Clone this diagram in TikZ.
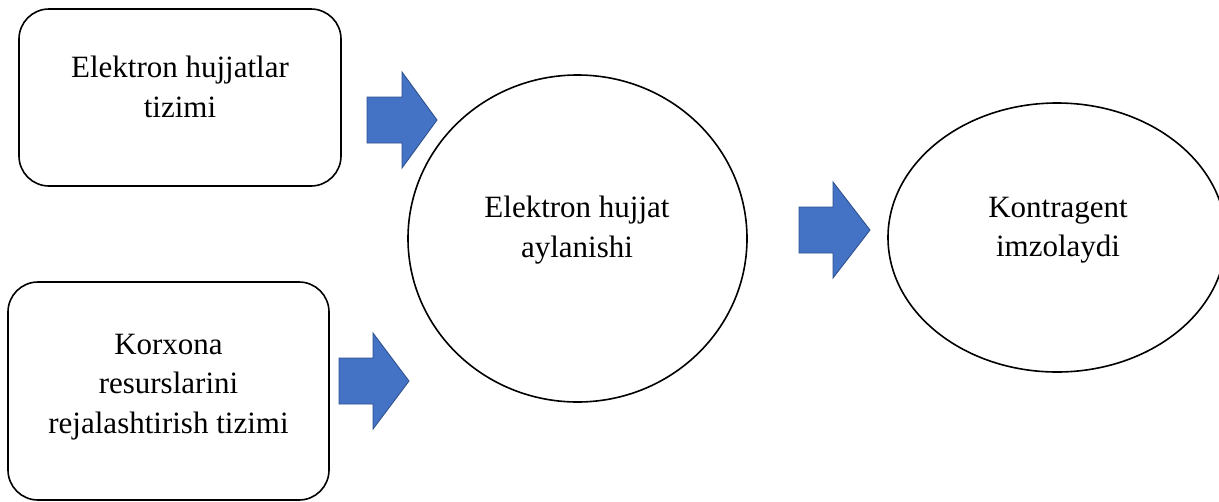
\documentclass[tikz,border=0pt]{standalone}
\usepackage{fontspec}
\setmainfont{Liberation Serif}
\usetikzlibrary{shapes.geometric}
\definecolor{arrfill}{HTML}{4472C4}
\definecolor{arrdraw}{HTML}{2F528F}
\tikzset{
  boxnode/.style={draw=black, line width=1.6pt, rounded corners=30pt, fill=white, inner sep=0pt},
  ovalnode/.style={draw=black, line width=1.6pt, ellipse, fill=white, inner sep=0pt},
  txt/.style={align=center, inner sep=0pt, anchor=base, font=\fontsize{31}{39.5}\selectfont},
  blockarrow/.style={fill=arrfill, draw=arrdraw, line width=0.9pt, line join=miter}
}
\newcommand{\myblockarrow}[4]{% x0 x1 x2 ymid
  \draw[blockarrow] (#1,#4-23) -- (#2,#4-23) -- (#2,#4-48) -- (#3,#4) -- (#2,#4+48) -- (#2,#4+23) -- (#1,#4+23) -- cycle;}
\begin{document}
\begin{tikzpicture}[x=1pt,y=-1pt]
\useasboundingbox (0,0) rectangle (1219,501);
\fill[white] (0,0) rectangle (1219,501);
% boxes
\node[boxnode, minimum width=322pt, minimum height=177pt] (b1) at (180,97.5) {};
\node[boxnode, minimum width=321pt, minimum height=218pt] (b2) at (168.5,391) {};
\node[ovalnode, minimum width=339pt, minimum height=327pt] (c1) at (577.5,238.5) {};
\node[ovalnode, minimum width=338pt, minimum height=269pt] (c2) at (1057,237.5) {};
% texts (anchor base = baseline of last line)
\node[txt] (t1) at (180,117) {Elektron hujjatlar\\tizimi};
\node[txt] (t2) at (168.5,433) {Korxona\\resurslarini\\rejalashtirish tizimi};
\node[txt] (t3) at (577,257) {Elektron hujjat\\aylanishi};
\node[txt] (t4) at (1058,256.5) {Kontragent\\imzolaydi};
% block arrows
\myblockarrow{367}{402}{437}{120}
\myblockarrow{339}{373}{409}{381}
\myblockarrow{799}{833}{870}{230}
\end{tikzpicture}
\end{document}
